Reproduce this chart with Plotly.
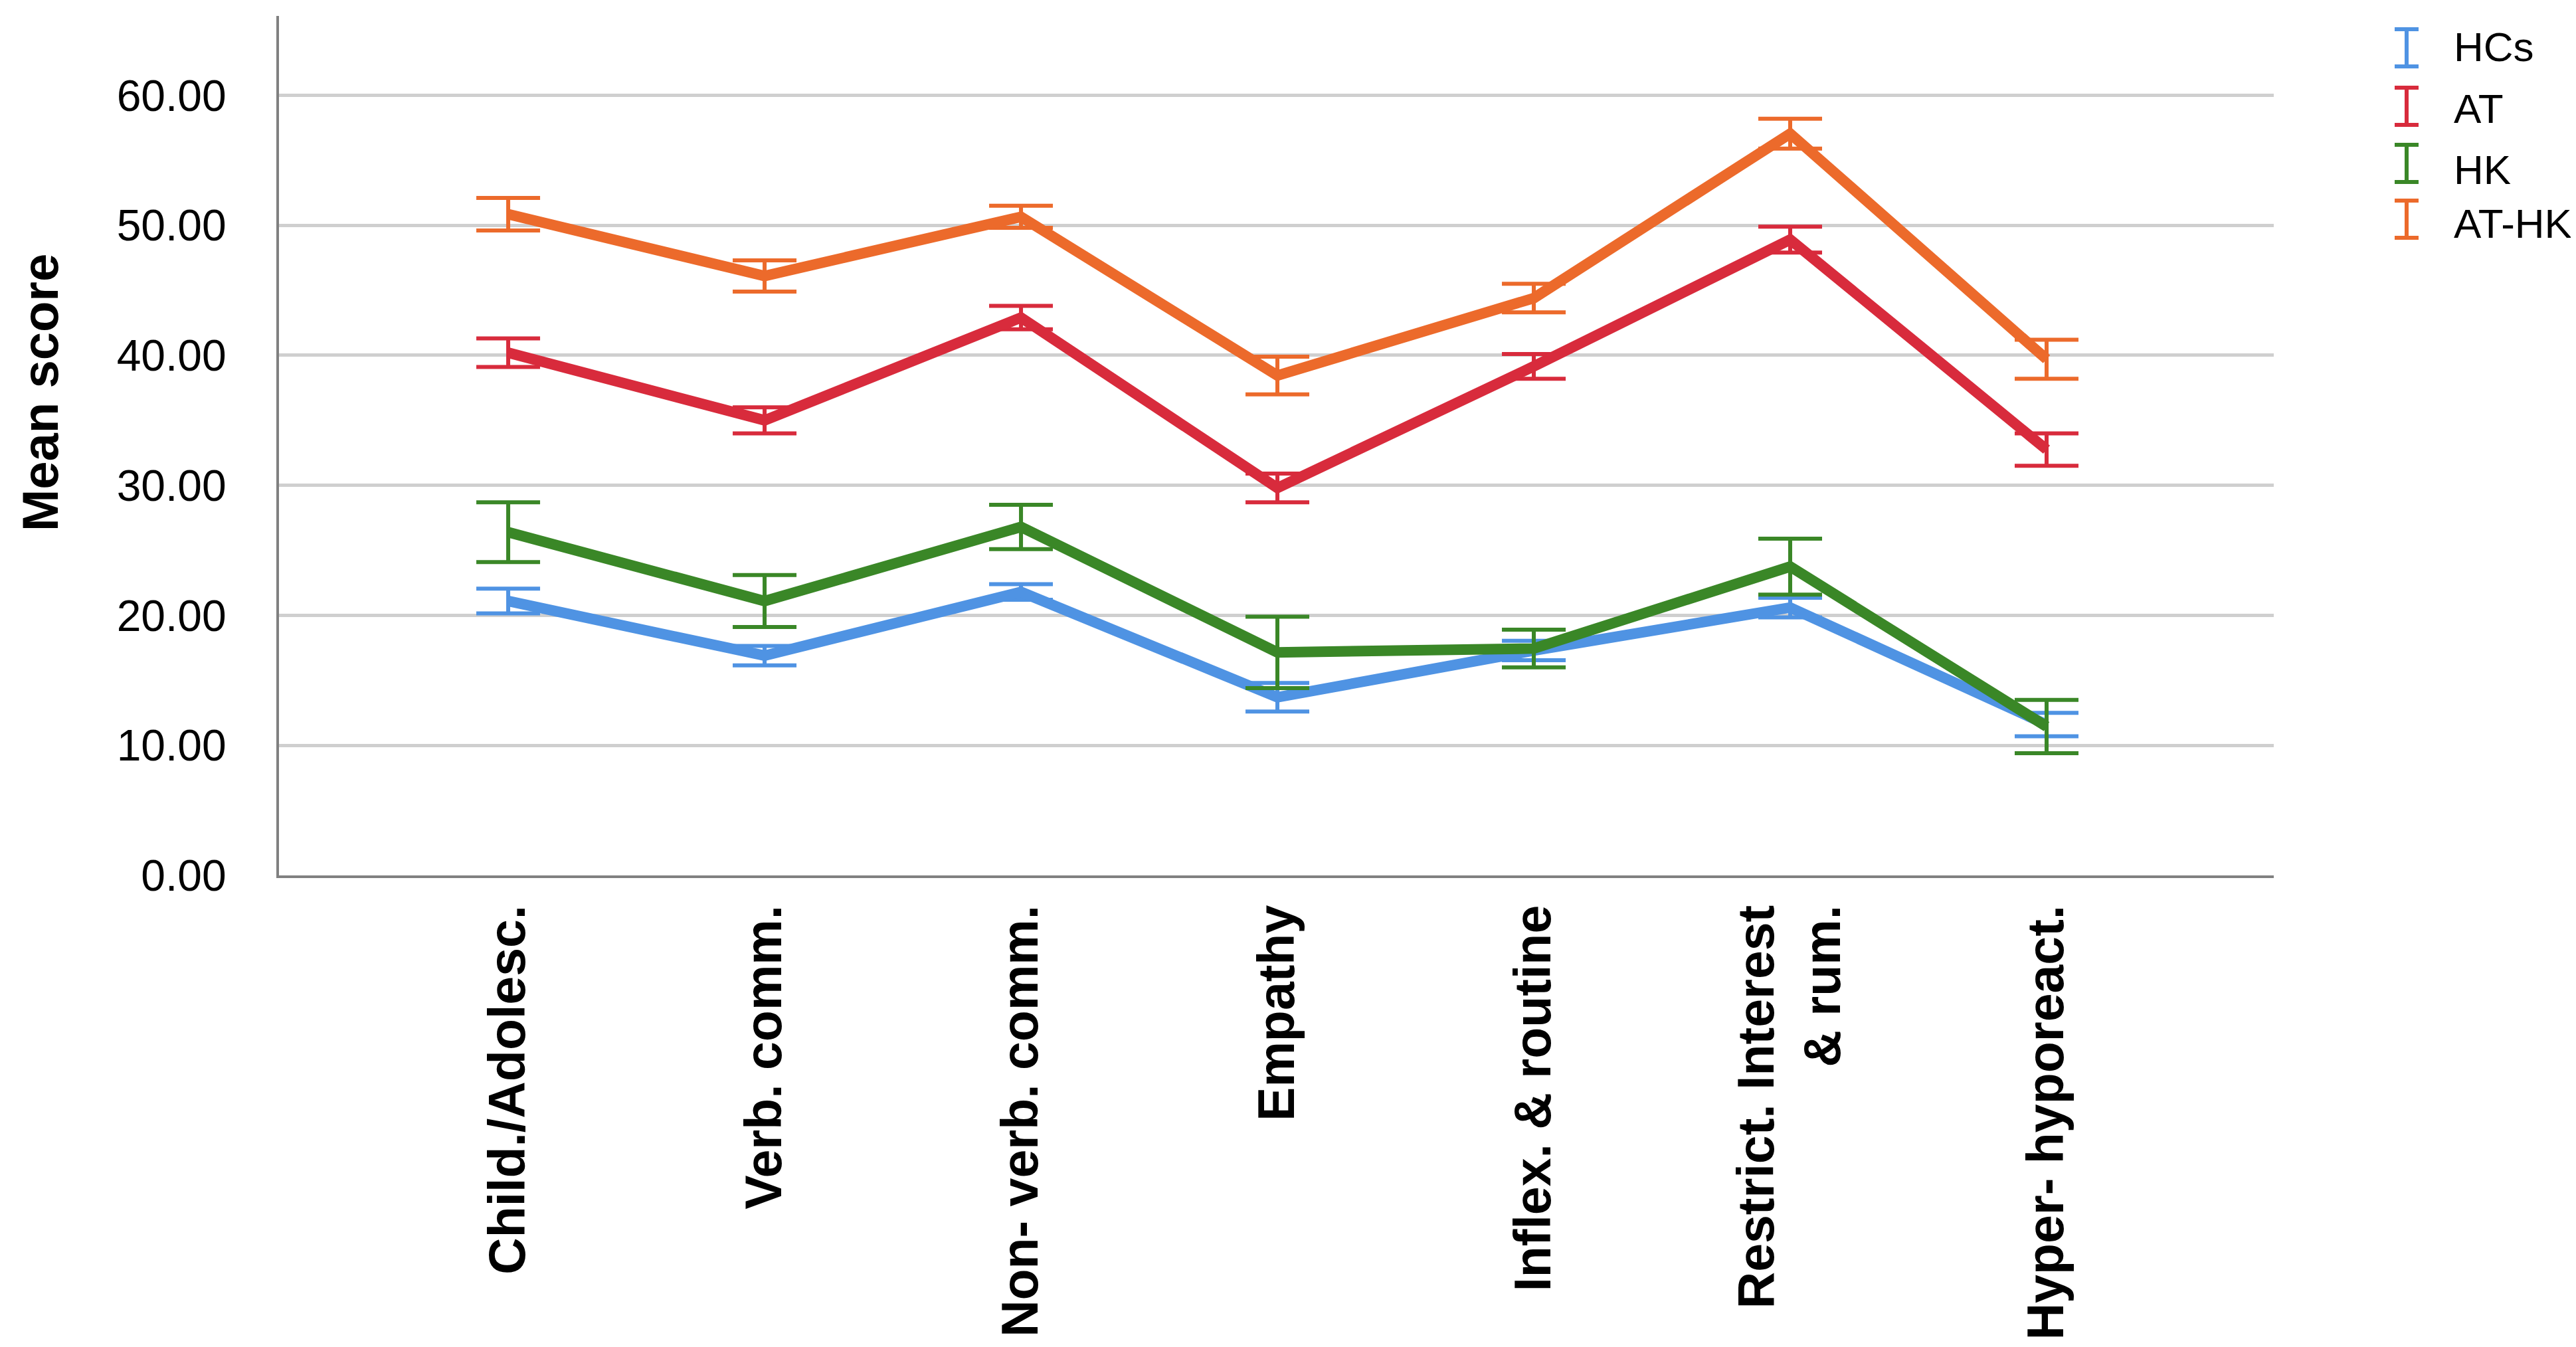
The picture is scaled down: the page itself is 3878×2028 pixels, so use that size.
import plotly.graph_objects as go

categories = ["Child./Adolesc.", "Verb. comm.", "Non- verb. comm.", "Empathy",
              "Inflex. & routine", "Restrict. Interest<br>& rum.", "Hyper- hyporeact."]

groups = ["HCs", "AT", "HK", "AT-HK"]

hcs_mean = [21.1, 16.9, 21.8, 13.7, 17.3, 20.6, 11.6]
hcs_err = [0.95, 0.75, 0.6, 1.1, 0.75, 0.75, 0.9]

at_mean = [40.2, 35.0, 42.9, 29.8, 39.15, 48.9, 32.75]
at_err = [1.1, 1.0, 0.9, 1.1, 0.95, 1.0, 1.25]

hk_mean = [26.4, 21.1, 26.8, 17.15, 17.45, 23.75, 11.45]
hk_err = [2.3, 2.0, 1.7, 2.75, 1.45, 2.15, 2.05]

athk_mean = [50.85, 46.1, 50.65, 38.45, 44.4, 57.05, 39.7]
athk_err = [1.25, 1.2, 0.85, 1.45, 1.1, 1.15, 1.5]

y_ticks = [0, 10, 20, 30, 40, 50, 60]

colors = ["#4f93e3", "#d82b3c", "#3a8727", "#ec6a2b"]
means = [hcs_mean, at_mean, hk_mean, athk_mean]
errs = [hcs_err, at_err, hk_err, athk_err]

W, H = 3878, 2028
ml, mr, mt, mb = 412, 463, 16, 718
pw = W - ml - mr
ph = H - mt - mb


def px_x(p):
    return (p - ml) / pw


def px_y(p):
    return (H - mb - p) / ph


fig = go.Figure()
xs = list(range(len(categories)))
for name, col, m, e in zip(groups, colors, means, errs):
    fig.add_trace(go.Scatter(
        x=xs, y=m, mode="lines", name=name, showlegend=False,
        line=dict(color=col, width=16),
        error_y=dict(type="data", array=e, visible=True, color=col,
                     thickness=6, width=48),
    ))

# legend: I-beam symbols drawn as shapes + labels
sym_rows = [64, 152, 238, 322]
txt_rows = [62, 155, 247, 328]
sym_cx, sym_half_w, sym_half_h = 3615, 18, 28
for name, col, sr, tr in zip(groups, colors, sym_rows, txt_rows):
    line = dict(color=col, width=6)
    fig.add_shape(type="line", xref="paper", yref="paper",
                  x0=px_x(sym_cx), x1=px_x(sym_cx),
                  y0=px_y(sr - sym_half_h), y1=px_y(sr + sym_half_h), line=line)
    for dy in (-sym_half_h, sym_half_h):
        fig.add_shape(type="line", xref="paper", yref="paper",
                      x0=px_x(sym_cx - sym_half_w), x1=px_x(sym_cx + sym_half_w),
                      y0=px_y(sr + dy), y1=px_y(sr + dy), line=line)
    fig.add_annotation(xref="paper", yref="paper", x=px_x(3684), y=px_y(tr),
                       text=name, showarrow=False, xanchor="left", yanchor="middle",
                       font=dict(family="Liberation Sans", size=62, color="black"))

# y-axis title
fig.add_annotation(xref="paper", yref="paper", x=px_x(52), y=px_y(583),
                   text="<b>Mean score</b>", textangle=-90, showarrow=False,
                   xanchor="center", yanchor="middle",
                   font=dict(family="Liberation Sans", size=76, color="black"))

fig.update_layout(
    width=W, height=H,
    margin=dict(l=ml, r=mr, t=mt, b=mb, autoexpand=False),
    paper_bgcolor="white", plot_bgcolor="white",
    font=dict(family="Liberation Sans", color="black"),
    showlegend=False,
)
fig.update_xaxes(
    tickmode="array", tickvals=xs, ticktext=categories,
    range=[-0.894, 6.886], tickangle=-90,
    tickfont=dict(family="Liberation Sans", size=77, color="black", weight="bold"),
    showgrid=False, zeroline=False,
    showline=True, linecolor="#808080", linewidth=4,
    ticks="", ticklabelstandoff=10,
)
fig.update_yaxes(
    range=[0, 66.1], tickmode="array", tickvals=y_ticks, tickformat=".2f",
    tickfont=dict(family="Liberation Sans", size=66, color="black"),
    showgrid=True, gridcolor="#cfcfcf", gridwidth=5,
    zeroline=False, showline=True, linecolor="#808080", linewidth=4,
    ticks="", ticklabelstandoff=62,
)

fig.write_html("out.html")
